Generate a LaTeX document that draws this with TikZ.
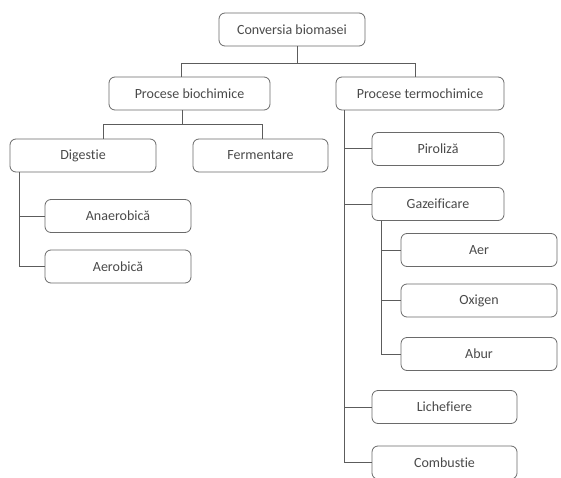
\documentclass[tikz,border=0pt]{standalone}
\usepackage{fontspec}
\setsansfont{Carlito}[Ligatures={NoCommon}]
\usepackage{tikz}
\usetikzlibrary{positioning,calc}
\definecolor{edge}{HTML}{6A6A6A}
\definecolor{ink}{HTML}{4A4A4A}
\definecolor{wire}{HTML}{5C5C5C}
\tikzset{box/.style={draw=edge,fill=white,line width=0.8pt,rounded corners=6pt,align=center,font=\sffamily\fontsize{14}{16}\selectfont,text=ink,inner sep=0pt,minimum height=33pt},link/.style={draw=wire,line width=1pt}}

\begin{document}
\begin{tikzpicture}[x=1pt,y=-1pt]
\useasboundingbox[fill=white] (0,0) rectangle (561,478);
% nivel 1
\node[box,minimum width=146pt] (conv) at (292,29.5) {Conversia biomasei};
% nivel 2
\node[box,minimum width=161pt] (bio) at (189.5,93.5) {Procese biochimice};
\node[box,minimum width=168pt] (termo) at (420,93.5) {Procese termochimice};
% ramura biochimica
\node[box,minimum width=146pt] (dig) at (83,155.5) {Digestie};
\node[box,minimum width=135pt] (ferm) at (260.5,155.5) {Fermentare};
\node[box,minimum width=146pt] (anae) at (118,216) {Anaerobică};
\node[box,minimum width=146pt] (aero) at (118,266.5) {Aerobică};
% ramura termochimica
\node[box,minimum width=132pt] (piro) at (438,149) {Piroliză};
\node[box,minimum width=132pt] (gaz) at (438,204) {Gazeificare};
\node[box,minimum width=156pt] (aer) at (479,250) {Aer};
\node[box,minimum width=156pt] (oxi) at (479,300.5) {Oxigen};
\node[box,minimum width=156pt] (abur) at (479,354) {Abur};
\node[box,minimum width=145pt] (lich) at (444.5,407) {Lichefiere};
\node[box,minimum width=145pt] (comb) at (444.5,462.5) {Combustie};
% legaturi
\draw[link] ([xshift=5pt]conv.south) -- ++(0,17) -| ([xshift=-8.5pt]bio.north);
\draw[link] ([xshift=5pt]conv.south) -- ++(0,17) -| ([xshift=-5pt]termo.north);
\draw[link] ([xshift=-7.5pt]bio.south) -- ++(0,14) -| ([xshift=20pt]dig.north);
\draw[link] ([xshift=-7.5pt]bio.south) -- ++(0,14) -| ([xshift=1.5pt]ferm.north);
\draw[link] ([xshift=10pt]dig.south west) |- (anae.west);
\draw[link] ([xshift=10pt]dig.south west) |- (aero.west);
\draw[link] ([xshift=9pt]termo.south west) |- (piro.west);
\draw[link] ([xshift=9pt]termo.south west) |- (gaz.west);
\draw[link] ([xshift=9pt]termo.south west) |- (lich.west);
\draw[link] ([xshift=9pt]termo.south west) |- (comb.west);
\draw[link] ([xshift=10pt]gaz.south west) |- (aer.west);
\draw[link] ([xshift=10pt]gaz.south west) |- (oxi.west);
\draw[link] ([xshift=10pt]gaz.south west) |- (abur.west);
\end{tikzpicture}
\end{document}
